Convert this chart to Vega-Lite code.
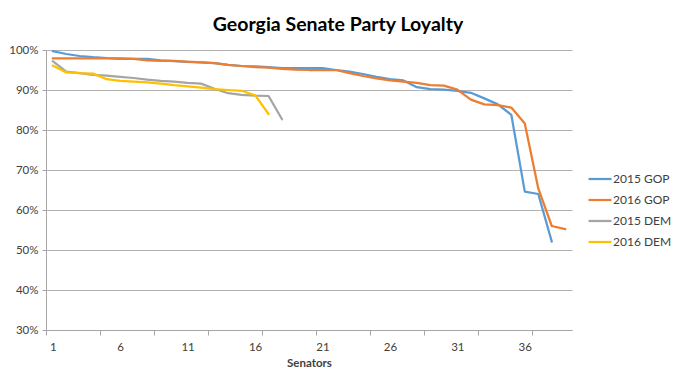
{
  "$schema": "https://vega.github.io/schema/vega-lite/v6.json",
  "width": 526,
  "height": 280,
  "autosize": {"type": "none"},
  "padding": {"left": 46, "top": 50, "right": 106, "bottom": 58},
  "background": "white",
  "title": {
    "text": "Georgia Senate Party Loyalty",
    "font": "Lato",
    "fontSize": 19.5,
    "fontWeight": "bold",
    "color": "#000000",
    "anchor": "middle",
    "dx": 29,
    "offset": 9
  },
  "data": {
    "values": [
      {"series": "2015 GOP", "senator": 1, "loyalty": 99.7},
      {"series": "2015 GOP", "senator": 2, "loyalty": 99.0},
      {"series": "2015 GOP", "senator": 3, "loyalty": 98.5},
      {"series": "2015 GOP", "senator": 4, "loyalty": 98.2},
      {"series": "2015 GOP", "senator": 5, "loyalty": 98.0},
      {"series": "2015 GOP", "senator": 6, "loyalty": 97.9},
      {"series": "2015 GOP", "senator": 7, "loyalty": 97.8},
      {"series": "2015 GOP", "senator": 8, "loyalty": 97.8},
      {"series": "2015 GOP", "senator": 9, "loyalty": 97.4},
      {"series": "2015 GOP", "senator": 10, "loyalty": 97.2},
      {"series": "2015 GOP", "senator": 11, "loyalty": 97.0},
      {"series": "2015 GOP", "senator": 12, "loyalty": 96.9},
      {"series": "2015 GOP", "senator": 13, "loyalty": 96.7},
      {"series": "2015 GOP", "senator": 14, "loyalty": 96.3},
      {"series": "2015 GOP", "senator": 15, "loyalty": 96.0},
      {"series": "2015 GOP", "senator": 16, "loyalty": 95.9},
      {"series": "2015 GOP", "senator": 17, "loyalty": 95.7},
      {"series": "2015 GOP", "senator": 18, "loyalty": 95.5},
      {"series": "2015 GOP", "senator": 19, "loyalty": 95.5},
      {"series": "2015 GOP", "senator": 20, "loyalty": 95.5},
      {"series": "2015 GOP", "senator": 21, "loyalty": 95.5},
      {"series": "2015 GOP", "senator": 22, "loyalty": 95.0},
      {"series": "2015 GOP", "senator": 23, "loyalty": 94.6},
      {"series": "2015 GOP", "senator": 24, "loyalty": 94.0},
      {"series": "2015 GOP", "senator": 25, "loyalty": 93.3},
      {"series": "2015 GOP", "senator": 26, "loyalty": 92.7},
      {"series": "2015 GOP", "senator": 27, "loyalty": 92.4},
      {"series": "2015 GOP", "senator": 28, "loyalty": 90.7},
      {"series": "2015 GOP", "senator": 29, "loyalty": 90.2},
      {"series": "2015 GOP", "senator": 30, "loyalty": 90.1},
      {"series": "2015 GOP", "senator": 31, "loyalty": 89.8},
      {"series": "2015 GOP", "senator": 32, "loyalty": 89.3},
      {"series": "2015 GOP", "senator": 33, "loyalty": 87.9},
      {"series": "2015 GOP", "senator": 34, "loyalty": 86.4},
      {"series": "2015 GOP", "senator": 35, "loyalty": 83.8},
      {"series": "2015 GOP", "senator": 36, "loyalty": 64.6},
      {"series": "2015 GOP", "senator": 37, "loyalty": 64.0},
      {"series": "2015 GOP", "senator": 38, "loyalty": 52.1},
      {"series": "2016 GOP", "senator": 1, "loyalty": 97.9},
      {"series": "2016 GOP", "senator": 2, "loyalty": 97.9},
      {"series": "2016 GOP", "senator": 3, "loyalty": 97.9},
      {"series": "2016 GOP", "senator": 4, "loyalty": 97.9},
      {"series": "2016 GOP", "senator": 5, "loyalty": 97.9},
      {"series": "2016 GOP", "senator": 6, "loyalty": 97.8},
      {"series": "2016 GOP", "senator": 7, "loyalty": 97.8},
      {"series": "2016 GOP", "senator": 8, "loyalty": 97.4},
      {"series": "2016 GOP", "senator": 9, "loyalty": 97.3},
      {"series": "2016 GOP", "senator": 10, "loyalty": 97.3},
      {"series": "2016 GOP", "senator": 11, "loyalty": 97.1},
      {"series": "2016 GOP", "senator": 12, "loyalty": 96.9},
      {"series": "2016 GOP", "senator": 13, "loyalty": 96.7},
      {"series": "2016 GOP", "senator": 14, "loyalty": 96.3},
      {"series": "2016 GOP", "senator": 15, "loyalty": 96.0},
      {"series": "2016 GOP", "senator": 16, "loyalty": 95.7},
      {"series": "2016 GOP", "senator": 17, "loyalty": 95.6},
      {"series": "2016 GOP", "senator": 18, "loyalty": 95.3},
      {"series": "2016 GOP", "senator": 19, "loyalty": 95.1},
      {"series": "2016 GOP", "senator": 20, "loyalty": 95.0},
      {"series": "2016 GOP", "senator": 21, "loyalty": 95.0},
      {"series": "2016 GOP", "senator": 22, "loyalty": 95.0},
      {"series": "2016 GOP", "senator": 23, "loyalty": 94.2},
      {"series": "2016 GOP", "senator": 24, "loyalty": 93.5},
      {"series": "2016 GOP", "senator": 25, "loyalty": 92.9},
      {"series": "2016 GOP", "senator": 26, "loyalty": 92.4},
      {"series": "2016 GOP", "senator": 27, "loyalty": 92.1},
      {"series": "2016 GOP", "senator": 28, "loyalty": 91.8},
      {"series": "2016 GOP", "senator": 29, "loyalty": 91.2},
      {"series": "2016 GOP", "senator": 30, "loyalty": 91.1},
      {"series": "2016 GOP", "senator": 31, "loyalty": 90.1},
      {"series": "2016 GOP", "senator": 32, "loyalty": 87.6},
      {"series": "2016 GOP", "senator": 33, "loyalty": 86.4},
      {"series": "2016 GOP", "senator": 34, "loyalty": 86.2},
      {"series": "2016 GOP", "senator": 35, "loyalty": 85.6},
      {"series": "2016 GOP", "senator": 36, "loyalty": 81.6},
      {"series": "2016 GOP", "senator": 37, "loyalty": 65.4},
      {"series": "2016 GOP", "senator": 38, "loyalty": 56.0},
      {"series": "2016 GOP", "senator": 39, "loyalty": 55.2},
      {"series": "2015 DEM", "senator": 1, "loyalty": 97.2},
      {"series": "2015 DEM", "senator": 2, "loyalty": 94.6},
      {"series": "2015 DEM", "senator": 3, "loyalty": 94.2},
      {"series": "2015 DEM", "senator": 4, "loyalty": 93.8},
      {"series": "2015 DEM", "senator": 5, "loyalty": 93.6},
      {"series": "2015 DEM", "senator": 6, "loyalty": 93.3},
      {"series": "2015 DEM", "senator": 7, "loyalty": 93.0},
      {"series": "2015 DEM", "senator": 8, "loyalty": 92.6},
      {"series": "2015 DEM", "senator": 9, "loyalty": 92.3},
      {"series": "2015 DEM", "senator": 10, "loyalty": 92.1},
      {"series": "2015 DEM", "senator": 11, "loyalty": 91.8},
      {"series": "2015 DEM", "senator": 12, "loyalty": 91.6},
      {"series": "2015 DEM", "senator": 13, "loyalty": 90.3},
      {"series": "2015 DEM", "senator": 14, "loyalty": 89.2},
      {"series": "2015 DEM", "senator": 15, "loyalty": 88.8},
      {"series": "2015 DEM", "senator": 16, "loyalty": 88.6},
      {"series": "2015 DEM", "senator": 17, "loyalty": 88.5},
      {"series": "2015 DEM", "senator": 18, "loyalty": 82.7},
      {"series": "2016 DEM", "senator": 1, "loyalty": 96.1},
      {"series": "2016 DEM", "senator": 2, "loyalty": 94.4},
      {"series": "2016 DEM", "senator": 3, "loyalty": 94.2},
      {"series": "2016 DEM", "senator": 4, "loyalty": 94.1},
      {"series": "2016 DEM", "senator": 5, "loyalty": 92.7},
      {"series": "2016 DEM", "senator": 6, "loyalty": 92.3},
      {"series": "2016 DEM", "senator": 7, "loyalty": 92.1},
      {"series": "2016 DEM", "senator": 8, "loyalty": 91.9},
      {"series": "2016 DEM", "senator": 9, "loyalty": 91.6},
      {"series": "2016 DEM", "senator": 10, "loyalty": 91.2},
      {"series": "2016 DEM", "senator": 11, "loyalty": 90.9},
      {"series": "2016 DEM", "senator": 12, "loyalty": 90.6},
      {"series": "2016 DEM", "senator": 13, "loyalty": 90.2},
      {"series": "2016 DEM", "senator": 14, "loyalty": 90.0},
      {"series": "2016 DEM", "senator": 15, "loyalty": 89.8},
      {"series": "2016 DEM", "senator": 16, "loyalty": 88.7},
      {"series": "2016 DEM", "senator": 17, "loyalty": 84.0}
    ]
  },
  "mark": {"type": "line", "strokeWidth": 2.25, "strokeJoin": "round", "strokeCap": "round"},
  "encoding": {
    "x": {
      "field": "senator",
      "type": "quantitative",
      "scale": {"domain": [0.5, 39.5], "nice": false, "zero": false},
      "axis": {
        "title": "Senators",
        "titleFont": "Lato",
        "titleFontSize": 11.5,
        "titleFontWeight": "bold",
        "titleColor": "#404040",
        "titlePadding": 5,
        "values": [0.5, 1, 4.5, 6, 8.5, 11, 12.5, 16, 16.5, 20.5, 21, 24.5, 26, 28.5, 31, 32.5, 36, 36.5],
        "labelExpr": "datum.value % 5 == 1 ? format(datum.value, 'd') : ''",
        "labelFont": "Lato",
        "labelFontSize": 11.5,
        "labelColor": "#404040",
        "labelPadding": 6,
        "labelOverlap": false,
        "labelFlush": false,
        "tickSize": 5,
        "tickColor": "#A6A6A6",
        "tickOpacity": {"condition": {"test": "datum.value % 1 != 0", "value": 1}, "value": 0},
        "domainColor": "#A6A6A6",
        "grid": false
      }
    },
    "y": {
      "field": "loyalty",
      "type": "quantitative",
      "scale": {"domain": [30, 100], "nice": false, "zero": false},
      "axis": {
        "title": null,
        "values": [30, 40, 50, 60, 70, 80, 90, 100],
        "labelExpr": "datum.value + '%'",
        "labelFont": "Lato",
        "labelFontSize": 11.5,
        "labelColor": "#404040",
        "labelPadding": 4,
        "tickSize": 4,
        "tickColor": "#A6A6A6",
        "domainColor": "#A6A6A6",
        "grid": true,
        "gridColor": "#B3B3B3",
        "gridWidth": 1
      }
    },
    "color": {
      "field": "series",
      "type": "nominal",
      "sort": ["2015 GOP", "2016 GOP", "2015 DEM", "2016 DEM"],
      "scale": {
        "domain": ["2015 GOP", "2016 GOP", "2015 DEM", "2016 DEM"],
        "range": ["#5B9BD5", "#ED7D31", "#A5A5A5", "#FFC000"]
      },
      "legend": {
        "title": null,
        "orient": "none",
        "legendX": 541,
        "legendY": 116,
        "symbolType": "stroke",
        "symbolSize": 529,
        "symbolStrokeWidth": 2.25,
        "labelFont": "Lato",
        "labelFontSize": 12,
        "labelColor": "#404040",
        "labelOffset": 0,
        "rowPadding": 2
      }
    }
  },
  "config": {
    "view": {"stroke": null}
  }
}
